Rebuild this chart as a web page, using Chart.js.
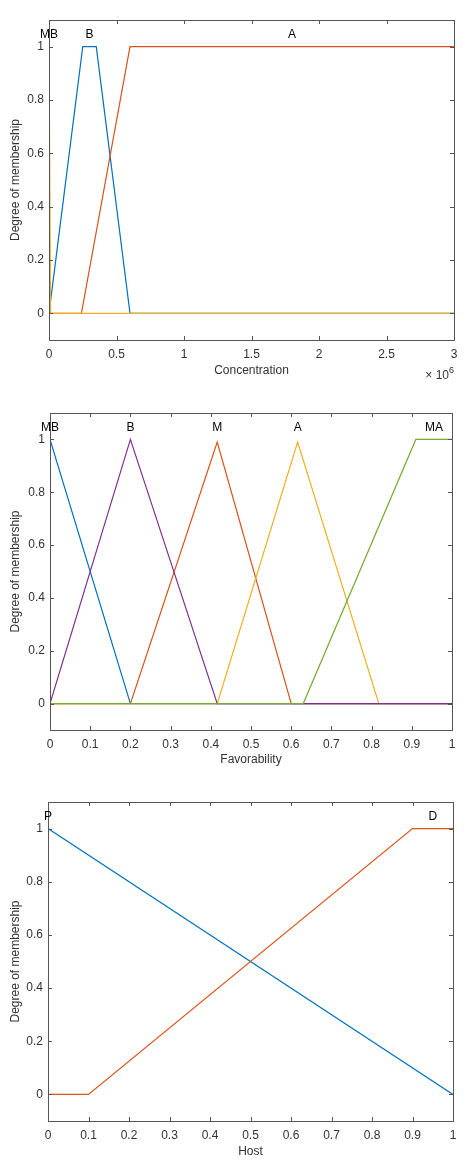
<!DOCTYPE html>
<html>
<head>
<meta charset="utf-8">
<script src="https://cdn.jsdelivr.net/npm/chart.js@4.4.0/dist/chart.umd.min.js"></script>
<style>
  html, body { margin: 0; padding: 0; background: #fff; }
  .panel { position: absolute; left: 0; width: 468px; }
</style>
</head>
<body>
<div class="panel" style="top:0px"><canvas id="c1" width="468" height="390"></canvas></div>
<div class="panel" style="top:390px"><canvas id="c2" width="468" height="390"></canvas></div>
<div class="panel" style="top:780px"><canvas id="c3" width="468" height="394"></canvas></div>
<script>
// ---- data ----
const membershipTicks = [0, 0.2, 0.4, 0.6, 0.8, 1];

// Concentration (x in raw units, axis shown as x 10^6)
const concentrationTicks = [0, 0.5e6, 1e6, 1.5e6, 2e6, 2.5e6, 3e6];
const concB_x  = [0, 0.25e6, 0.35e6, 0.6e6, 3e6];
const concB_y  = [0, 1, 1, 0, 0];
const concA_x  = [0, 0.24e6, 0.6e6, 3e6];
const concA_y  = [0, 0, 1, 1];
const concMB_x = [0, 0.012e6, 3e6];
const concMB_y = [1, 0, 0];

// Favorability
const favorabilityTicks = [0, 0.1, 0.2, 0.3, 0.4, 0.5, 0.6, 0.7, 0.8, 0.9, 1];
const favMB_x = [0, 0.2, 1];
const favMB_y = [1, 0, 0];
const favM_x  = [0, 0.2, 0.416, 0.6, 1];
const favM_y  = [0, 0, 0.99, 0, 0];
const favA_x  = [0, 0.416, 0.616, 0.818, 1];
const favA_y  = [0, 0, 0.99, 0, 0];
const favB_x  = [0, 0.2, 0.416, 1];
const favB_y  = [0, 1, 0, 0];
const favMA_x = [0, 0.63, 0.91, 1];
const favMA_y = [0, 0, 1, 1];

// Host
const hostTicks = [0, 0.1, 0.2, 0.3, 0.4, 0.5, 0.6, 0.7, 0.8, 0.9, 1];
const hostP_x = [0, 1];
const hostP_y = [1, 0];
const hostD_x = [0, 0.1, 0.9, 1];
const hostD_y = [0, 0, 1, 1];

// ---- styling ----
const BLUE = '#0072BD', ORANGE = '#D95319', YELLOW = '#EDB120', PURPLE = '#7E2F8E', GREEN = '#77AC30';
const FONT = '"Liberation Sans", Arial, sans-serif';
const FS = 12;
const AXIS_COLOR = '#555';
const TEXT_COLOR = '#333';

function series(name, xs, ys, color, idx) {
  return {
    label: name,
    data: xs.map((x, i) => ({ x: x, y: ys[i] })),
    borderColor: color,
    borderWidth: 1.2,
    pointRadius: 0,
    fill: false,
    tension: 0,
    order: -idx   // later series drawn on top, like MATLAB
  };
}

// box, inward ticks, MF names and exponent
const matlabAxes = {
  id: 'matlabAxes',
  afterDatasetsDraw(chart, args, opts) {
    const ctx = chart.ctx;
    const a = chart.chartArea;
    const xs = chart.scales.x, ys = chart.scales.y;
    ctx.save();
    ctx.strokeStyle = AXIS_COLOR;
    ctx.lineWidth = 1;
    ctx.strokeRect(Math.round(a.left) + 0.5, Math.round(a.top) + 0.5,
                   Math.round(a.right - a.left), Math.round(a.bottom - a.top));
    const tl = 4;
    ctx.beginPath();
    xs.ticks.forEach(t => {
      const px = Math.round(xs.getPixelForValue(t.value)) + 0.5;
      ctx.moveTo(px, a.bottom); ctx.lineTo(px, a.bottom - tl);
      ctx.moveTo(px, a.top); ctx.lineTo(px, a.top + tl);
    });
    ys.ticks.forEach(t => {
      const py = Math.round(ys.getPixelForValue(t.value)) + 0.5;
      ctx.moveTo(a.left, py); ctx.lineTo(a.left + tl, py);
      ctx.moveTo(a.right, py); ctx.lineTo(a.right - tl, py);
    });
    ctx.stroke();

    // membership function names above their peaks
    ctx.fillStyle = '#000';
    ctx.font = FS + 'px ' + FONT;
    ctx.textAlign = 'center';
    ctx.textBaseline = 'middle';
    chart.data.datasets.forEach(ds => {
      const top = Math.max(...ds.data.map(p => p.y));
      const atTop = ds.data.filter(p => p.y === top);
      const cx = atTop.reduce((s, p) => s + p.x, 0) / atTop.length;
      ctx.fillText(ds.label, xs.getPixelForValue(cx), ys.getPixelForValue(1.045));
    });

    if (opts.exponent) {
      const yb = a.bottom + 39;
      ctx.textAlign = 'right';
      ctx.textBaseline = 'alphabetic';
      ctx.fillStyle = TEXT_COLOR;
      ctx.font = '9px ' + FONT;
      const w = ctx.measureText(opts.exponent).width;
      ctx.fillText(opts.exponent, a.right, yb - 6);
      ctx.font = FS + 'px ' + FONT;
      ctx.fillText('\u00d7 10', a.right - w, yb);
    }
    ctx.restore();
  }
};

function makeChart(id, cfg) {
  return new Chart(document.getElementById(id), {
    type: 'line',
    data: { datasets: cfg.datasets },
    plugins: [matlabAxes],
    options: {
      responsive: false,
      animation: false,
      layout: { padding: { top: cfg.padTop, right: cfg.padRight, left: 0, bottom: 0 } },
      plugins: {
        legend: { display: false },
        tooltip: { enabled: false },
        matlabAxes: { exponent: cfg.exponent }
      },
      scales: {
        x: {
          type: 'linear',
          min: 0,
          max: cfg.xMax,
          grid: { display: false, drawTicks: false },
          border: { display: false },
          afterBuildTicks: s => { s.ticks = cfg.xTicks.map(v => ({ value: v })); },
          afterFit: s => { s.height = cfg.xAxisHeight; },
          ticks: {
            autoSkip: false, maxRotation: 0, padding: 7,
            color: TEXT_COLOR, font: { family: FONT, size: FS },
            callback: v => String(+(v / cfg.xScale).toFixed(2))
          },
          title: {
            display: true, text: cfg.xTitle, color: TEXT_COLOR,
            font: { family: FONT, size: FS },
            padding: { top: 0, bottom: cfg.titlePad }
          }
        },
        y: {
          type: 'linear',
          min: -0.1,
          max: 1.1,
          grid: { display: false, drawTicks: false },
          border: { display: false },
          afterBuildTicks: s => { s.ticks = membershipTicks.map(v => ({ value: v })); },
          afterFit: s => { s.width = cfg.left; },
          ticks: {
            autoSkip: false, padding: 5,
            color: TEXT_COLOR, font: { family: FONT, size: FS },
            callback: v => String(+v.toFixed(2))
          },
          title: {
            display: true, text: 'Degree of membership', color: TEXT_COLOR,
            font: { family: FONT, size: FS },
            padding: { top: 8, bottom: 0 }
          }
        }
      }
    }
  });
}

makeChart('c1', {
  datasets: [
    series('B', concB_x, concB_y, BLUE, 0),
    series('A', concA_x, concA_y, ORANGE, 1),
    series('MB', concMB_x, concMB_y, YELLOW, 2)
  ],
  xTicks: concentrationTicks, xMax: 3e6, xScale: 1e6, exponent: '6',
  xTitle: 'Concentration',
  padTop: 20, padRight: 14, left: 49, xAxisHeight: 50, titlePad: 12
});

makeChart('c2', {
  datasets: [
    series('MB', favMB_x, favMB_y, BLUE, 0),
    series('M', favM_x, favM_y, ORANGE, 1),
    series('A', favA_x, favA_y, YELLOW, 2),
    series('B', favB_x, favB_y, PURPLE, 3),
    series('MA', favMA_x, favMA_y, GREEN, 4)
  ],
  xTicks: favorabilityTicks, xMax: 1, xScale: 1,
  xTitle: 'Favorability',
  padTop: 23, padRight: 16, left: 50, xAxisHeight: 50, titlePad: 13
});

makeChart('c3', {
  datasets: [
    series('P', hostP_x, hostP_y, BLUE, 0),
    series('D', hostD_x, hostD_y, ORANGE, 1)
  ],
  xTicks: hostTicks, xMax: 1, xScale: 1,
  xTitle: 'Host',
  padTop: 22, padRight: 15, left: 48, xAxisHeight: 53, titlePad: 15
});
</script>
</body>
</html>
